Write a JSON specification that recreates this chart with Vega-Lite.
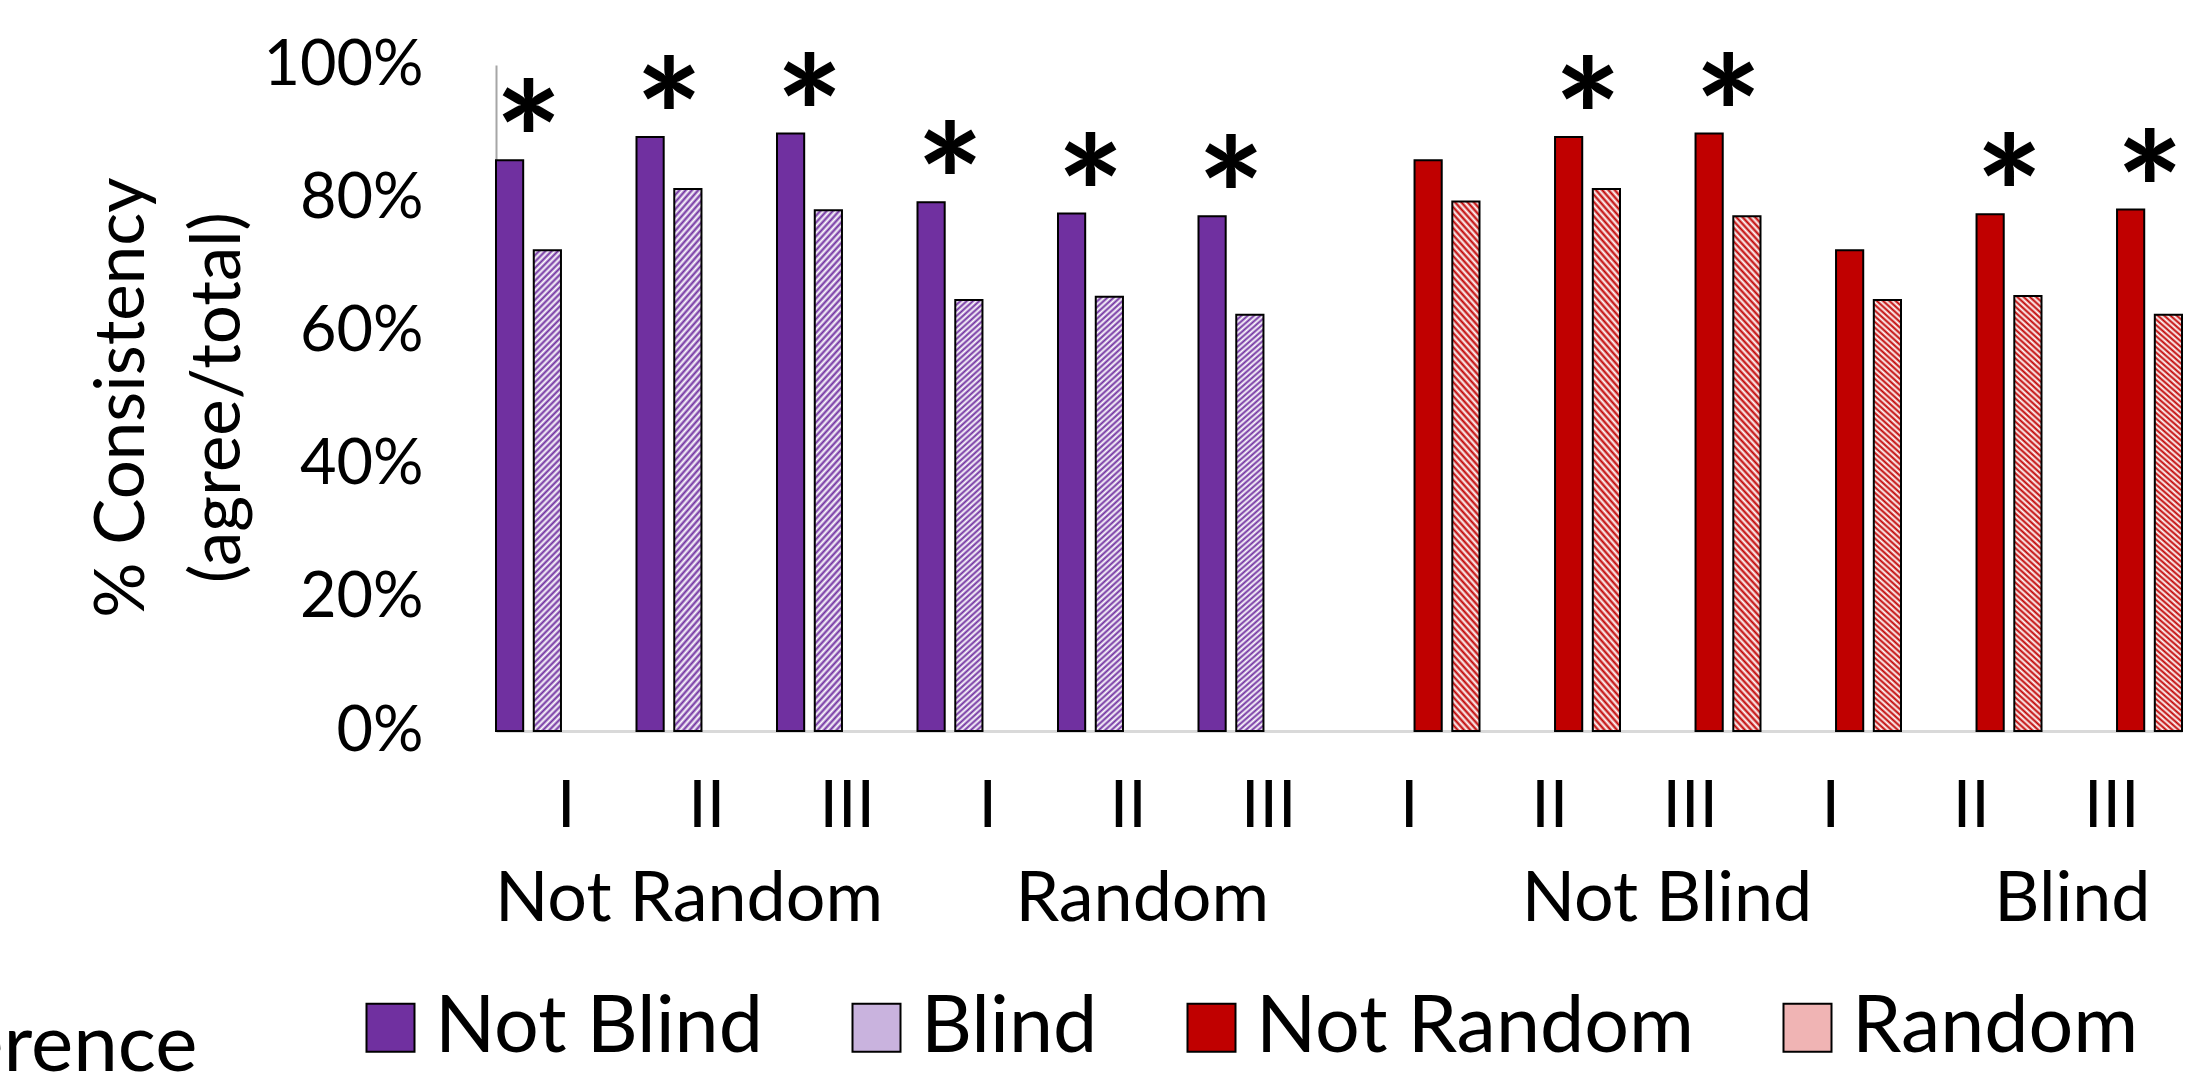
{
  "$schema": "https://vega.github.io/schema/vega-lite/v6.json",
  "width": 1686,
  "height": 666,
  "autosize": "none",
  "padding": {"left": 496, "top": 65, "right": 21, "bottom": 351},
  "background": "white",
  "config": {"view": {"stroke": null}, "font": "Lato"},
  "datasets": {
    "bars": [
      {"cat": "I", "series": "Not Blind", "value": 0.857},
      {"cat": "I", "series": "Blind", "value": 0.722},
      {"cat": "II", "series": "Not Blind", "value": 0.892},
      {"cat": "II", "series": "Blind", "value": 0.814},
      {"cat": "III", "series": "Not Blind", "value": 0.897},
      {"cat": "III", "series": "Blind", "value": 0.782},
      {"cat": "I\u200b", "series": "Not Blind", "value": 0.794},
      {"cat": "I\u200b", "series": "Blind", "value": 0.647},
      {"cat": "II\u200b", "series": "Not Blind", "value": 0.777},
      {"cat": "II\u200b", "series": "Blind", "value": 0.652},
      {"cat": "III\u200b", "series": "Not Blind", "value": 0.773},
      {"cat": "III\u200b", "series": "Blind", "value": 0.625},
      {"cat": "I\u200b\u200b", "series": "Not Random", "value": 0.857},
      {"cat": "I\u200b\u200b", "series": "Random", "value": 0.795},
      {"cat": "II\u200b\u200b", "series": "Not Random", "value": 0.892},
      {"cat": "II\u200b\u200b", "series": "Random", "value": 0.814},
      {"cat": "III\u200b\u200b", "series": "Not Random", "value": 0.897},
      {"cat": "III\u200b\u200b", "series": "Random", "value": 0.773},
      {"cat": "I\u200b\u200b\u200b", "series": "Not Random", "value": 0.722},
      {"cat": "I\u200b\u200b\u200b", "series": "Random", "value": 0.647},
      {"cat": "II\u200b\u200b\u200b", "series": "Not Random", "value": 0.776},
      {"cat": "II\u200b\u200b\u200b", "series": "Random", "value": 0.653},
      {"cat": "III\u200b\u200b\u200b", "series": "Not Random", "value": 0.783},
      {"cat": "III\u200b\u200b\u200b", "series": "Random", "value": 0.625}
    ],
    "stars": [
      {"cat": "I", "series": "Not Blind", "value": 0.857, "sig": "*"},
      {"cat": "II", "series": "Not Blind", "value": 0.892, "sig": "*"},
      {"cat": "III", "series": "Not Blind", "value": 0.897, "sig": "*"},
      {"cat": "I\u200b", "series": "Not Blind", "value": 0.794, "sig": "*"},
      {"cat": "II\u200b", "series": "Not Blind", "value": 0.777, "sig": "*"},
      {"cat": "III\u200b", "series": "Not Blind", "value": 0.773, "sig": "*"},
      {"cat": "II\u200b\u200b", "series": "Not Random", "value": 0.892, "sig": "*"},
      {"cat": "III\u200b\u200b", "series": "Not Random", "value": 0.897, "sig": "*"},
      {"cat": "II\u200b\u200b\u200b", "series": "Not Random", "value": 0.776, "sig": "*"},
      {"cat": "III\u200b\u200b\u200b", "series": "Not Random", "value": 0.783, "sig": "*"}
    ],
    "groups": [
      {"label": "Not Random", "pos": 1.374},
      {"label": "Random", "pos": 4.6},
      {"label": "Not Blind", "pos": 8.334},
      {"label": "Blind", "pos": 11.22}
    ]
  },
  "resolve": {"scale": {"x": "independent", "y": "independent"}, "axis": {"x": "independent", "y": "independent"}},
  "layer": [
    {
      "encoding": {
        "x": {
          "field": "cat", "type": "nominal",
          "scale": {"domain": ["I", "II", "III", "I\u200b", "II\u200b", "III\u200b", "I\u200b\u200b", "II\u200b\u200b", "III\u200b\u200b", "I\u200b\u200b\u200b", "II\u200b\u200b\u200b", "III\u200b\u200b\u200b"], "paddingInner": 0, "paddingOuter": 0},
          "axis": {
            "labelFont": "Lato", "labelFontSize": 66, "labelColor": "#000000", "labelPadding": 43, "labelAngle": 0,
            "ticks": false, "domainColor": "#d9d9d9", "domainWidth": 3,
            "title": "erence", "titleFont": "Lato", "titleFontSize": 80, "titleFontWeight": "normal", "titleColor": "#000000",
            "titleAlign": "right", "titleBaseline": "alphabetic", "titleX": -299, "titleY": 339
          }
        },
        "xOffset": {"field": "series", "type": "nominal", "scale": {"domain": ["Not Blind", "Blind", "Not Random", "Random"], "paddingInner": 0.28, "paddingOuter": 0}},
        "y": {
          "field": "value", "type": "quantitative",
          "scale": {"domain": [0, 1], "nice": false, "zero": true},
          "axis": {
            "values": [0, 0.2, 0.4, 0.6, 0.8, 1], "format": ".0%",
            "labelFont": "Lato", "labelFontSize": 63, "labelColor": "#000000", "labelPadding": 73,
            "ticks": false, "grid": false, "domainColor": "#a6a6a6", "domainWidth": 2,
            "title": ["% Consistency", "(agree/total)"],
            "titleFont": "Lato", "titleFontSize": 69, "titleFontWeight": "normal", "titleColor": "#000000",
            "titleAngle": -90, "titleAlign": "center", "titleBaseline": "alphabetic",
            "titleX": -353, "titleY": 332, "titleLineHeight": 96
          }
        }
      },
      "layer": [
        {
          "data": {"name": "bars"},
          "mark": {"type": "bar", "stroke": "#000000", "strokeWidth": 2},
          "encoding": {
            "fill": {
              "field": "series", "type": "nominal",
              "scale": {"domain": ["Not Blind", "Blind", "Not Random", "Random"], "range": ["#7030a0", "#c9b3de", "#c00000", "#f0b4b4"]},
              "condition": [
                {"test": "datum.series === 'Blind'", "value": {"gradient": "linear", "x1": 0, "y1": 0, "x2": 0.0604, "y2": 1.0538, "stops": [
{"offset":0,"color":"#7030a0"},{"offset":0.00625,"color":"#ffffff"},{"offset":0.0125,"color":"#7030a0"},{"offset":0.01875,"color":"#ffffff"},{"offset":0.025,"color":"#7030a0"},{"offset":0.03125,"color":"#ffffff"},{"offset":0.0375,"color":"#7030a0"},{"offset":0.04375,"color":"#ffffff"},
{"offset":0.05,"color":"#7030a0"},{"offset":0.05625,"color":"#ffffff"},{"offset":0.0625,"color":"#7030a0"},{"offset":0.06875,"color":"#ffffff"},{"offset":0.075,"color":"#7030a0"},{"offset":0.08125,"color":"#ffffff"},{"offset":0.0875,"color":"#7030a0"},{"offset":0.09375,"color":"#ffffff"},
{"offset":0.1,"color":"#7030a0"},{"offset":0.10625,"color":"#ffffff"},{"offset":0.1125,"color":"#7030a0"},{"offset":0.11875,"color":"#ffffff"},{"offset":0.125,"color":"#7030a0"},{"offset":0.13125,"color":"#ffffff"},{"offset":0.1375,"color":"#7030a0"},{"offset":0.14375,"color":"#ffffff"},
{"offset":0.15,"color":"#7030a0"},{"offset":0.15625,"color":"#ffffff"},{"offset":0.1625,"color":"#7030a0"},{"offset":0.16875,"color":"#ffffff"},{"offset":0.175,"color":"#7030a0"},{"offset":0.18125,"color":"#ffffff"},{"offset":0.1875,"color":"#7030a0"},{"offset":0.19375,"color":"#ffffff"},
{"offset":0.2,"color":"#7030a0"},{"offset":0.20625,"color":"#ffffff"},{"offset":0.2125,"color":"#7030a0"},{"offset":0.21875,"color":"#ffffff"},{"offset":0.225,"color":"#7030a0"},{"offset":0.23125,"color":"#ffffff"},{"offset":0.2375,"color":"#7030a0"},{"offset":0.24375,"color":"#ffffff"},
{"offset":0.25,"color":"#7030a0"},{"offset":0.25625,"color":"#ffffff"},{"offset":0.2625,"color":"#7030a0"},{"offset":0.26875,"color":"#ffffff"},{"offset":0.275,"color":"#7030a0"},{"offset":0.28125,"color":"#ffffff"},{"offset":0.2875,"color":"#7030a0"},{"offset":0.29375,"color":"#ffffff"},
{"offset":0.3,"color":"#7030a0"},{"offset":0.30625,"color":"#ffffff"},{"offset":0.3125,"color":"#7030a0"},{"offset":0.31875,"color":"#ffffff"},{"offset":0.325,"color":"#7030a0"},{"offset":0.33125,"color":"#ffffff"},{"offset":0.3375,"color":"#7030a0"},{"offset":0.34375,"color":"#ffffff"},
{"offset":0.35,"color":"#7030a0"},{"offset":0.35625,"color":"#ffffff"},{"offset":0.3625,"color":"#7030a0"},{"offset":0.36875,"color":"#ffffff"},{"offset":0.375,"color":"#7030a0"},{"offset":0.38125,"color":"#ffffff"},{"offset":0.3875,"color":"#7030a0"},{"offset":0.39375,"color":"#ffffff"},
{"offset":0.4,"color":"#7030a0"},{"offset":0.40625,"color":"#ffffff"},{"offset":0.4125,"color":"#7030a0"},{"offset":0.41875,"color":"#ffffff"},{"offset":0.425,"color":"#7030a0"},{"offset":0.43125,"color":"#ffffff"},{"offset":0.4375,"color":"#7030a0"},{"offset":0.44375,"color":"#ffffff"},
{"offset":0.45,"color":"#7030a0"},{"offset":0.45625,"color":"#ffffff"},{"offset":0.4625,"color":"#7030a0"},{"offset":0.46875,"color":"#ffffff"},{"offset":0.475,"color":"#7030a0"},{"offset":0.48125,"color":"#ffffff"},{"offset":0.4875,"color":"#7030a0"},{"offset":0.49375,"color":"#ffffff"},
{"offset":0.5,"color":"#7030a0"},{"offset":0.50625,"color":"#ffffff"},{"offset":0.5125,"color":"#7030a0"},{"offset":0.51875,"color":"#ffffff"},{"offset":0.525,"color":"#7030a0"},{"offset":0.53125,"color":"#ffffff"},{"offset":0.5375,"color":"#7030a0"},{"offset":0.54375,"color":"#ffffff"},
{"offset":0.55,"color":"#7030a0"},{"offset":0.55625,"color":"#ffffff"},{"offset":0.5625,"color":"#7030a0"},{"offset":0.56875,"color":"#ffffff"},{"offset":0.575,"color":"#7030a0"},{"offset":0.58125,"color":"#ffffff"},{"offset":0.5875,"color":"#7030a0"},{"offset":0.59375,"color":"#ffffff"},
{"offset":0.6,"color":"#7030a0"},{"offset":0.60625,"color":"#ffffff"},{"offset":0.6125,"color":"#7030a0"},{"offset":0.61875,"color":"#ffffff"},{"offset":0.625,"color":"#7030a0"},{"offset":0.63125,"color":"#ffffff"},{"offset":0.6375,"color":"#7030a0"},{"offset":0.64375,"color":"#ffffff"},
{"offset":0.65,"color":"#7030a0"},{"offset":0.65625,"color":"#ffffff"},{"offset":0.6625,"color":"#7030a0"},{"offset":0.66875,"color":"#ffffff"},{"offset":0.675,"color":"#7030a0"},{"offset":0.68125,"color":"#ffffff"},{"offset":0.6875,"color":"#7030a0"},{"offset":0.69375,"color":"#ffffff"},
{"offset":0.7,"color":"#7030a0"},{"offset":0.70625,"color":"#ffffff"},{"offset":0.7125,"color":"#7030a0"},{"offset":0.71875,"color":"#ffffff"},{"offset":0.725,"color":"#7030a0"},{"offset":0.73125,"color":"#ffffff"},{"offset":0.7375,"color":"#7030a0"},{"offset":0.74375,"color":"#ffffff"},
{"offset":0.75,"color":"#7030a0"},{"offset":0.75625,"color":"#ffffff"},{"offset":0.7625,"color":"#7030a0"},{"offset":0.76875,"color":"#ffffff"},{"offset":0.775,"color":"#7030a0"},{"offset":0.78125,"color":"#ffffff"},{"offset":0.7875,"color":"#7030a0"},{"offset":0.79375,"color":"#ffffff"},
{"offset":0.8,"color":"#7030a0"},{"offset":0.80625,"color":"#ffffff"},{"offset":0.8125,"color":"#7030a0"},{"offset":0.81875,"color":"#ffffff"},{"offset":0.825,"color":"#7030a0"},{"offset":0.83125,"color":"#ffffff"},{"offset":0.8375,"color":"#7030a0"},{"offset":0.84375,"color":"#ffffff"},
{"offset":0.85,"color":"#7030a0"},{"offset":0.85625,"color":"#ffffff"},{"offset":0.8625,"color":"#7030a0"},{"offset":0.86875,"color":"#ffffff"},{"offset":0.875,"color":"#7030a0"},{"offset":0.88125,"color":"#ffffff"},{"offset":0.8875,"color":"#7030a0"},{"offset":0.89375,"color":"#ffffff"},
{"offset":0.9,"color":"#7030a0"},{"offset":0.90625,"color":"#ffffff"},{"offset":0.9125,"color":"#7030a0"},{"offset":0.91875,"color":"#ffffff"},{"offset":0.925,"color":"#7030a0"},{"offset":0.93125,"color":"#ffffff"},{"offset":0.9375,"color":"#7030a0"},{"offset":0.94375,"color":"#ffffff"},
{"offset":0.95,"color":"#7030a0"},{"offset":0.95625,"color":"#ffffff"},{"offset":0.9625,"color":"#7030a0"},{"offset":0.96875,"color":"#ffffff"},{"offset":0.975,"color":"#7030a0"},{"offset":0.98125,"color":"#ffffff"},{"offset":0.9875,"color":"#7030a0"},{"offset":0.99375,"color":"#ffffff"},
{"offset":1,"color":"#7030a0"}
                ]}},
                {"test": "datum.series === 'Random'", "value": {"gradient": "linear", "x1": 1, "y1": 0, "x2": 0.9396, "y2": 1.0538, "stops": [
{"offset":0,"color":"#c00000"},{"offset":0.00625,"color":"#ffffff"},{"offset":0.0125,"color":"#c00000"},{"offset":0.01875,"color":"#ffffff"},{"offset":0.025,"color":"#c00000"},{"offset":0.03125,"color":"#ffffff"},{"offset":0.0375,"color":"#c00000"},{"offset":0.04375,"color":"#ffffff"},
{"offset":0.05,"color":"#c00000"},{"offset":0.05625,"color":"#ffffff"},{"offset":0.0625,"color":"#c00000"},{"offset":0.06875,"color":"#ffffff"},{"offset":0.075,"color":"#c00000"},{"offset":0.08125,"color":"#ffffff"},{"offset":0.0875,"color":"#c00000"},{"offset":0.09375,"color":"#ffffff"},
{"offset":0.1,"color":"#c00000"},{"offset":0.10625,"color":"#ffffff"},{"offset":0.1125,"color":"#c00000"},{"offset":0.11875,"color":"#ffffff"},{"offset":0.125,"color":"#c00000"},{"offset":0.13125,"color":"#ffffff"},{"offset":0.1375,"color":"#c00000"},{"offset":0.14375,"color":"#ffffff"},
{"offset":0.15,"color":"#c00000"},{"offset":0.15625,"color":"#ffffff"},{"offset":0.1625,"color":"#c00000"},{"offset":0.16875,"color":"#ffffff"},{"offset":0.175,"color":"#c00000"},{"offset":0.18125,"color":"#ffffff"},{"offset":0.1875,"color":"#c00000"},{"offset":0.19375,"color":"#ffffff"},
{"offset":0.2,"color":"#c00000"},{"offset":0.20625,"color":"#ffffff"},{"offset":0.2125,"color":"#c00000"},{"offset":0.21875,"color":"#ffffff"},{"offset":0.225,"color":"#c00000"},{"offset":0.23125,"color":"#ffffff"},{"offset":0.2375,"color":"#c00000"},{"offset":0.24375,"color":"#ffffff"},
{"offset":0.25,"color":"#c00000"},{"offset":0.25625,"color":"#ffffff"},{"offset":0.2625,"color":"#c00000"},{"offset":0.26875,"color":"#ffffff"},{"offset":0.275,"color":"#c00000"},{"offset":0.28125,"color":"#ffffff"},{"offset":0.2875,"color":"#c00000"},{"offset":0.29375,"color":"#ffffff"},
{"offset":0.3,"color":"#c00000"},{"offset":0.30625,"color":"#ffffff"},{"offset":0.3125,"color":"#c00000"},{"offset":0.31875,"color":"#ffffff"},{"offset":0.325,"color":"#c00000"},{"offset":0.33125,"color":"#ffffff"},{"offset":0.3375,"color":"#c00000"},{"offset":0.34375,"color":"#ffffff"},
{"offset":0.35,"color":"#c00000"},{"offset":0.35625,"color":"#ffffff"},{"offset":0.3625,"color":"#c00000"},{"offset":0.36875,"color":"#ffffff"},{"offset":0.375,"color":"#c00000"},{"offset":0.38125,"color":"#ffffff"},{"offset":0.3875,"color":"#c00000"},{"offset":0.39375,"color":"#ffffff"},
{"offset":0.4,"color":"#c00000"},{"offset":0.40625,"color":"#ffffff"},{"offset":0.4125,"color":"#c00000"},{"offset":0.41875,"color":"#ffffff"},{"offset":0.425,"color":"#c00000"},{"offset":0.43125,"color":"#ffffff"},{"offset":0.4375,"color":"#c00000"},{"offset":0.44375,"color":"#ffffff"},
{"offset":0.45,"color":"#c00000"},{"offset":0.45625,"color":"#ffffff"},{"offset":0.4625,"color":"#c00000"},{"offset":0.46875,"color":"#ffffff"},{"offset":0.475,"color":"#c00000"},{"offset":0.48125,"color":"#ffffff"},{"offset":0.4875,"color":"#c00000"},{"offset":0.49375,"color":"#ffffff"},
{"offset":0.5,"color":"#c00000"},{"offset":0.50625,"color":"#ffffff"},{"offset":0.5125,"color":"#c00000"},{"offset":0.51875,"color":"#ffffff"},{"offset":0.525,"color":"#c00000"},{"offset":0.53125,"color":"#ffffff"},{"offset":0.5375,"color":"#c00000"},{"offset":0.54375,"color":"#ffffff"},
{"offset":0.55,"color":"#c00000"},{"offset":0.55625,"color":"#ffffff"},{"offset":0.5625,"color":"#c00000"},{"offset":0.56875,"color":"#ffffff"},{"offset":0.575,"color":"#c00000"},{"offset":0.58125,"color":"#ffffff"},{"offset":0.5875,"color":"#c00000"},{"offset":0.59375,"color":"#ffffff"},
{"offset":0.6,"color":"#c00000"},{"offset":0.60625,"color":"#ffffff"},{"offset":0.6125,"color":"#c00000"},{"offset":0.61875,"color":"#ffffff"},{"offset":0.625,"color":"#c00000"},{"offset":0.63125,"color":"#ffffff"},{"offset":0.6375,"color":"#c00000"},{"offset":0.64375,"color":"#ffffff"},
{"offset":0.65,"color":"#c00000"},{"offset":0.65625,"color":"#ffffff"},{"offset":0.6625,"color":"#c00000"},{"offset":0.66875,"color":"#ffffff"},{"offset":0.675,"color":"#c00000"},{"offset":0.68125,"color":"#ffffff"},{"offset":0.6875,"color":"#c00000"},{"offset":0.69375,"color":"#ffffff"},
{"offset":0.7,"color":"#c00000"},{"offset":0.70625,"color":"#ffffff"},{"offset":0.7125,"color":"#c00000"},{"offset":0.71875,"color":"#ffffff"},{"offset":0.725,"color":"#c00000"},{"offset":0.73125,"color":"#ffffff"},{"offset":0.7375,"color":"#c00000"},{"offset":0.74375,"color":"#ffffff"},
{"offset":0.75,"color":"#c00000"},{"offset":0.75625,"color":"#ffffff"},{"offset":0.7625,"color":"#c00000"},{"offset":0.76875,"color":"#ffffff"},{"offset":0.775,"color":"#c00000"},{"offset":0.78125,"color":"#ffffff"},{"offset":0.7875,"color":"#c00000"},{"offset":0.79375,"color":"#ffffff"},
{"offset":0.8,"color":"#c00000"},{"offset":0.80625,"color":"#ffffff"},{"offset":0.8125,"color":"#c00000"},{"offset":0.81875,"color":"#ffffff"},{"offset":0.825,"color":"#c00000"},{"offset":0.83125,"color":"#ffffff"},{"offset":0.8375,"color":"#c00000"},{"offset":0.84375,"color":"#ffffff"},
{"offset":0.85,"color":"#c00000"},{"offset":0.85625,"color":"#ffffff"},{"offset":0.8625,"color":"#c00000"},{"offset":0.86875,"color":"#ffffff"},{"offset":0.875,"color":"#c00000"},{"offset":0.88125,"color":"#ffffff"},{"offset":0.8875,"color":"#c00000"},{"offset":0.89375,"color":"#ffffff"},
{"offset":0.9,"color":"#c00000"},{"offset":0.90625,"color":"#ffffff"},{"offset":0.9125,"color":"#c00000"},{"offset":0.91875,"color":"#ffffff"},{"offset":0.925,"color":"#c00000"},{"offset":0.93125,"color":"#ffffff"},{"offset":0.9375,"color":"#c00000"},{"offset":0.94375,"color":"#ffffff"},
{"offset":0.95,"color":"#c00000"},{"offset":0.95625,"color":"#ffffff"},{"offset":0.9625,"color":"#c00000"},{"offset":0.96875,"color":"#ffffff"},{"offset":0.975,"color":"#c00000"},{"offset":0.98125,"color":"#ffffff"},{"offset":0.9875,"color":"#c00000"},{"offset":0.99375,"color":"#ffffff"},
{"offset":1,"color":"#c00000"}
                ]}}
              ],
              "legend": {
                "orient": "none", "legendX": -145, "legendY": 923, "direction": "horizontal", "columns": 4,
                "title": null, "padding": 0,
                "symbolType": "square", "symbolSize": 2304, "symbolStrokeColor": "#000000", "symbolStrokeWidth": 2, "symbolOpacity": 1,
                "labelFont": "Lato", "labelFontSize": 79, "labelColor": "#000000", "labelOffset": 5, "labelLimit": 2000,
                "columnPadding": 74
              }
            }
          }
        },
        {
          "data": {"name": "stars"},
          "mark": {"type": "text", "font": "Lato", "fontSize": 160, "fontWeight": "bold", "dx": 19, "dy": 39, "baseline": "alphabetic", "align": "center", "color": "#000000"},
          "encoding": {"text": {"field": "sig"}}
        }
      ]
    },
    {
      "data": {"name": "groups"},
      "mark": {"type": "text", "font": "Lato", "fontSize": 70, "baseline": "alphabetic", "align": "center", "color": "#000000"},
      "encoding": {
        "x": {"field": "pos", "type": "quantitative", "scale": {"domain": [0, 12], "nice": false, "zero": false}, "axis": null},
        "y": {"datum": -0.286, "type": "quantitative", "scale": {"domain": [0, 1], "nice": false}, "axis": null},
        "text": {"field": "label"}
      }
    }
  ]
}
